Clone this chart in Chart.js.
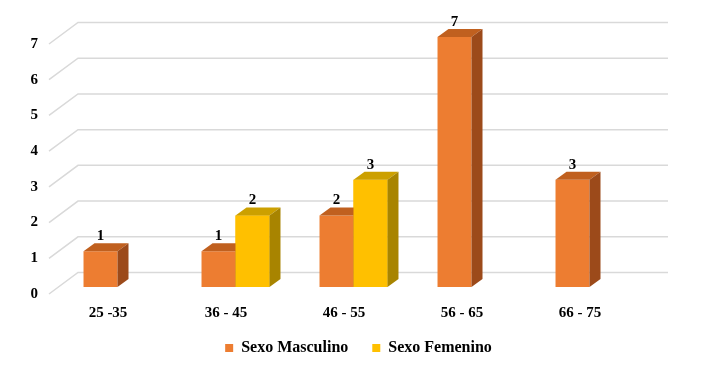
<!DOCTYPE html>
<html>
<head>
<meta charset="utf-8">
<script src="https://cdn.jsdelivr.net/npm/chart.js@4.4.1/dist/chart.umd.min.js"></script>
<style>
  html, body { margin: 0; padding: 0; background: #fff; }
</style>
</head>
<body>
<canvas id="ageChart" width="708" height="373"></canvas>
<script>
const ageGroups = ["25 -35", "36 - 45", "46 - 55", "56 - 65", "66 - 75"];
const maleCounts = [1, 1, 2, 7, 3];
const femaleCounts = [null, 2, 3, null, null];
const yTicks = [0, 1, 2, 3, 4, 5, 6, 7];

// fake 3d: back wall offset and bar offset/depth
const WALL_DX = 29, WALL_DY = 21.5;
const SHIFT_DX = 9.5, SHIFT_DY = 7;
const BAR_DX = 11, BAR_DY = 8;

const faces = [
  { front: "#ED7D31", top: "#C0601F", side: "#9C4A1A" },
  { front: "#FFC000", top: "#CCA000", side: "#A88400" },
];

const serif = "'Liberation Serif', 'Times New Roman', serif";

function poly(ctx, pts, color) {
  ctx.beginPath();
  ctx.moveTo(pts[0][0], pts[0][1]);
  for (let i = 1; i < pts.length; i++) ctx.lineTo(pts[i][0], pts[i][1]);
  ctx.closePath();
  ctx.fillStyle = color;
  ctx.fill();
}

const box3d = {
  id: "box3d",
  afterLayout(chart) {
    // legend sits a bit right of centre and a bit higher in the original
    const lg = chart.legend;
    lg.left += 39;
    lg.right += 39;
    lg.top -= 7;
    lg.bottom -= 7;
  },
  beforeDatasetsDraw(chart) {
    const { ctx, chartArea, scales } = chart;
    ctx.save();
    ctx.strokeStyle = "#d9d9d9";
    ctx.lineWidth = 1.5;
    yTicks.forEach((v) => {
      const py = scales.y.getPixelForValue(v);
      ctx.beginPath();
      ctx.moveTo(chartArea.left, py);
      ctx.lineTo(chartArea.left + WALL_DX, py - WALL_DY);
      ctx.lineTo(chartArea.right + WALL_DX, py - WALL_DY);
      ctx.stroke();
    });
    ctx.restore();

    ctx.save();
    ctx.translate(SHIFT_DX, -SHIFT_DY);
  },
  afterDatasetsDraw(chart) {
    const ctx = chart.ctx;
    chart.data.datasets.forEach((ds, di) => {
      const meta = chart.getDatasetMeta(di);
      const c = faces[di];
      meta.data.forEach((bar, i) => {
        if (ds.data[i] == null) return;
        const { x, y, base, width } = bar.getProps(["x", "y", "base", "width"], true);
        const l = x - width / 2, r = x + width / 2;
        if (di > 0) poly(ctx, [[l, y], [r, y], [r, base], [l, base]], c.front);
        poly(ctx, [[l, y], [r, y], [r + BAR_DX, y - BAR_DY], [l + BAR_DX, y - BAR_DY]], c.top);
        poly(ctx, [[r, y], [r + BAR_DX, y - BAR_DY], [r + BAR_DX, base - BAR_DY], [r, base]], c.side);
      });
    });

    // value labels
    ctx.fillStyle = "#000";
    ctx.font = "bold 15px " + serif;
    ctx.textAlign = "center";
    ctx.textBaseline = "middle";
    chart.data.datasets.forEach((ds, di) => {
      chart.getDatasetMeta(di).data.forEach((bar, i) => {
        if (ds.data[i] == null) return;
        ctx.fillText(ds.data[i], bar.x, bar.y - 15);
      });
    });
    ctx.restore();
  },
};

new Chart(document.getElementById("ageChart"), {
  type: "bar",
  data: {
    labels: ageGroups,
    datasets: [
      {
        label: "Sexo Masculino",
        data: maleCounts,
        backgroundColor: faces[0].front,
        categoryPercentage: 0.576,
        barPercentage: 1,
      },
      {
        label: "Sexo Femenino",
        data: femaleCounts,
        backgroundColor: faces[1].front,
        categoryPercentage: 0.576,
        barPercentage: 1,
      },
    ],
  },
  options: {
    responsive: false,
    animation: false,
    layout: { padding: { left: 0, right: 69, top: 44, bottom: 0 } },
    plugins: {
      tooltip: { enabled: false },
      legend: {
        position: "bottom",
        labels: {
          boxWidth: 8,
          boxHeight: 8,
          padding: 24,
          color: "#000",
          font: { family: serif, size: 16, weight: "bold" },
        },
      },
    },
    scales: {
      x: {
        grid: { display: false, drawTicks: false },
        border: { display: false },
        ticks: { color: "#000", padding: 10, font: { family: serif, size: 15, weight: "bold" } },
        afterFit: (scale) => { scale.height = 29; },
      },
      y: {
        min: 0,
        max: 7,
        grid: { display: false, drawTicks: false },
        border: { display: false },
        ticks: { stepSize: 1, color: "#000", padding: 11, font: { family: serif, size: 15, weight: "bold" } },
        afterFit: (scale) => { scale.width = 49; },
      },
    },
  },
  plugins: [box3d],
});
</script>
</body>
</html>
